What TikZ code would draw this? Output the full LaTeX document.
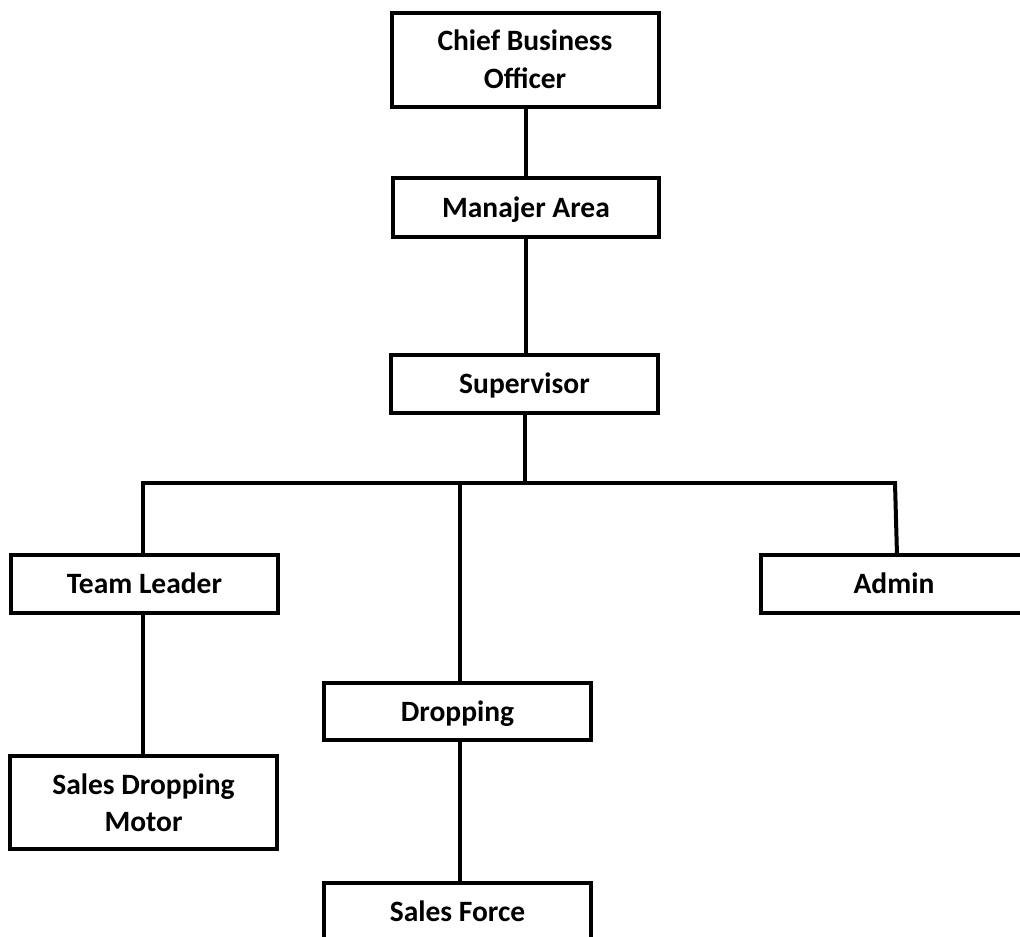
\documentclass[tikz,border=0pt]{standalone}
\usepackage{fontspec}
\setmainfont{Carlito}
\begin{document}
\begin{tikzpicture}[x=1pt,y=-1pt,
  orgbase/.style={draw=black, line width=4pt, fill=white, minimum width=267pt, minimum height=58pt,
    inner sep=0pt, align=center, font=\bfseries\fontsize{29.5}{37.5}\selectfont, text=black},
  orgbox/.style={orgbase, text height=19.5pt, text depth=-1.5pt},
  orgtwo/.style={orgbase, minimum height=94pt},
  link/.style={draw=black, line width=4pt}]
\useasboundingbox (0,0) rectangle (1020,937);
\clip (0,0) rectangle (1020,937);
\node[orgtwo] (chief) at (525,59.5) {Chief Business\\Officer};
\node[orgbox, minimum width=266pt, minimum height=59pt] (man) at (526,207.5) {Manajer Area};
\node[orgbox] (sup) at (524.5,384) {Supervisor};
\node[orgbox] (tl) at (144.5,584) {Team Leader};
\node[orgbox, minimum width=266pt] (admin) at (894,584) {Admin};
\node[orgbox, minimum height=57pt] (drop) at (457.5,711.5) {Dropping};
\node[orgtwo, minimum height=93pt] (sdm) at (143.5,802.5) {Sales Dropping\\Motor};
\node[orgbox] (sf) at (457.5,912) {Sales Force};
\coordinate (busl) at (143,483);
\coordinate (busr) at (895,483);
\coordinate (busm) at (525,483);
\coordinate (busd) at (460,483);
\coordinate (adtop) at (897,555);
\draw[link] (526,107) -- (526,178);
\draw[link] (526,237) -- (526,355);
\draw[link] (525,413) -- (busm);
\draw[link, line cap=rect] (busl) -- (busr);
\draw[link] (busl) -- (143,555);
\draw[link] (busr) -- (adtop);
\draw[link] (busd) -- (460,683);
\draw[link] (143,613) -- (143,756);
\draw[link] (460,740) -- (460,883);
\end{tikzpicture}
\end{document}
